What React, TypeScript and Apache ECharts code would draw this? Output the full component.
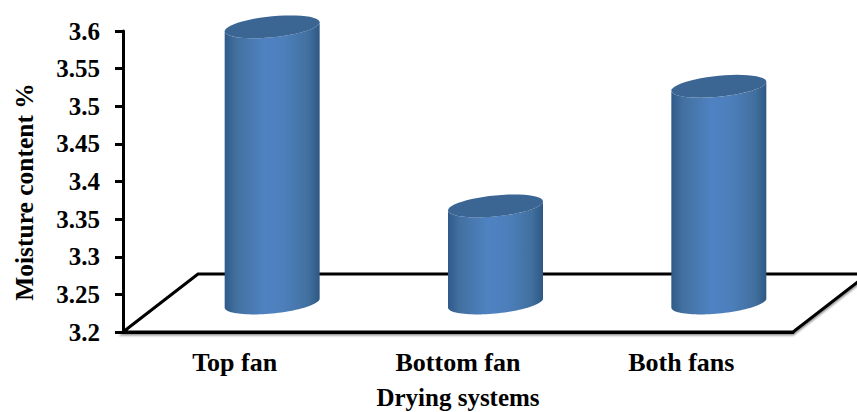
import React, { useEffect, useRef } from "react";
import * as echarts from "echarts";

const categories = ["Top fan", "Bottom fan", "Both fans"];
const moisture = [3.567, 3.329, 3.488];
const xTitle = "Drying systems";
const yTitle = "Moisture content %";
const yMin = 3.2;
const yMax = 3.6;
const yStep = 0.05;

// Oblique projection of the chart floor
const DEPTH_X = 75;
const DEPTH_Y = 58;
const CYL_HALF_W = 47.5;
const CYL_RY = 10.5;
const CYL_TILT = 4.5;
const FONT = "'Liberation Serif', 'Times New Roman', serif";

// Points along a slightly sheared ellipse between two angles
function rimPoints(cx: number, cy: number, from: number, to: number) {
  const pts: number[][] = [];
  const n = 48;
  for (let i = 0; i <= n; i++) {
    const t = from + ((to - from) * i) / n;
    const c = Math.cos(t);
    const s = Math.sin(t);
    pts.push([cx + CYL_HALF_W * c, cy - CYL_TILT * c + CYL_RY * s]);
  }
  return pts;
}

function renderCylinder(_params: any, api: any) {
  const i = api.value(0);
  const top = api.coord([i, api.value(1)]);
  const base = api.coord([i, yMin]);
  const cx = top[0] + DEPTH_X / 2;
  const topY = top[1] - DEPTH_Y / 2;
  const baseY = base[1] - DEPTH_Y / 2;
  // Body: front half of the lower rim joined to the front half of the upper rim
  const bodyShape = [
    ...rimPoints(cx, baseY, 0, Math.PI),
    ...rimPoints(cx, topY, Math.PI, 0),
  ];
  return {
    type: "group",
    children: [
      {
        type: "polygon",
        shape: { points: bodyShape },
        style: {
          fill: new echarts.graphic.LinearGradient(0, 0, 1, 0, [
            { offset: 0, color: "#2f5a8a" },
            { offset: 0.12, color: "#42709f" },
            { offset: 0.42, color: "#4f82c2" },
            { offset: 0.62, color: "#4d7fbc" },
            { offset: 0.88, color: "#41709f" },
            { offset: 1, color: "#2e5884" },
          ]),
        },
      },
      {
        type: "polygon",
        shape: { points: rimPoints(cx, topY, 0, Math.PI * 2) },
        style: { fill: "#3b6593" },
      },
    ],
  };
}

function renderFloor(params: any) {
  const sys = params.coordSys;
  const left = sys.x;
  const right = sys.x + sys.width;
  const bottom = sys.y + sys.height;
  const backY = bottom - DEPTH_Y;
  return {
    type: "polygon",
    shape: {
      points: [
        [left, bottom],
        [left + DEPTH_X, backY],
        [right + DEPTH_X, backY],
        [right, bottom],
      ],
    },
    style: {
      stroke: "#000",
      lineWidth: 3,
      fill: "#fff",
      shadowColor: "rgba(0,0,0,0.45)",
      shadowBlur: 2,
      shadowOffsetY: 2,
    },
  };
}

export default function App() {
  const ref = useRef<HTMLDivElement>(null);

  useEffect(() => {
    const chart = echarts.init(ref.current!, undefined, { renderer: "svg" });
    const axisText = { color: "#000", fontFamily: FONT, fontWeight: "bold" as const };
    chart.setOption({
      animation: false,
      backgroundColor: "#fff",
      grid: { left: 123, right: 64, top: 31, bottom: 80, outerBoundsMode: "none" },
      xAxis: {
        type: "category",
        data: categories,
        axisTick: { show: false },
        axisLine: { lineStyle: { color: "#000", width: 3 } },
        axisLabel: { ...axisText, fontSize: 26, margin: 17 },
        name: xTitle,
        nameLocation: "middle",
        nameGap: 53,
        nameTextStyle: { ...axisText, fontSize: 25 },
      },
      yAxis: {
        type: "value",
        min: yMin,
        max: yMax,
        interval: yStep,
        splitLine: { show: false },
        axisLine: { show: true, lineStyle: { color: "#000", width: 3 } },
        axisTick: { show: true, length: 8, lineStyle: { color: "#000", width: 3 } },
        axisLabel: { ...axisText, fontSize: 25, margin: 23 },
        name: yTitle,
        nameLocation: "middle",
        nameGap: 86,
        nameTextStyle: { ...axisText, fontSize: 25.5, padding: [0, 21, 0, 0] },
      },
      series: [
        {
          type: "custom",
          coordinateSystem: "cartesian2d",
          renderItem: renderFloor,
          data: [[0, yMin]],
          clip: false,
          z: 1,
          silent: true,
        },
        {
          type: "custom",
          coordinateSystem: "cartesian2d",
          renderItem: renderCylinder,
          data: moisture.map((v, i) => [i, v]),
          encode: { x: 0, y: 1 },
          clip: false,
          z: 3,
        },
      ],
    });
    return () => chart.dispose();
  }, []);

  return (
    <div
      ref={ref}
      style={{ position: "fixed", left: 0, top: 0, width: 857, height: 412 }}
    />
  );
}
